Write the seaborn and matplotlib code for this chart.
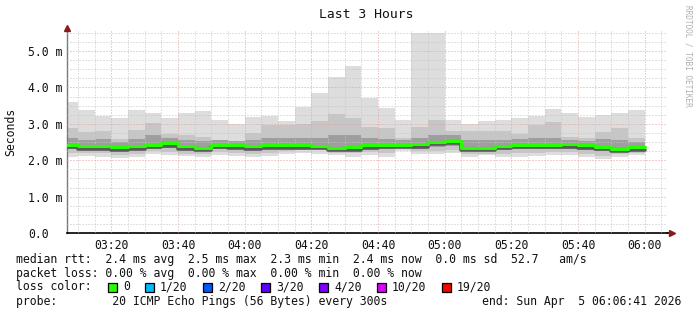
import numpy as np
import pandas as pd
import matplotlib
matplotlib.use("Agg")
import matplotlib.pyplot as plt
import seaborn as sns
from matplotlib.patches import Rectangle
from matplotlib.transforms import offset_copy

# ---------------- data ----------------
start_time = "03:06:41"
bar_end_times = ["03:10", "03:15", "03:20", "03:25", "03:30", "03:35", "03:40",
                 "03:45", "03:50", "03:55", "04:00", "04:05", "04:10", "04:15",
                 "04:20", "04:25", "04:30", "04:35", "04:40", "04:45", "04:50",
                 "04:55", "05:00", "05:05", "05:10", "05:15", "05:20", "05:25",
                 "05:30", "05:35", "05:40", "05:45", "05:50", "05:55", "06:00"]

# RTT smoke percentiles in ms
rtt_max = [3.61, 3.39, 3.22, 3.16, 3.37, 3.29, 3.16, 3.31, 3.34, 3.11,
           3.00, 3.20, 3.22, 3.07, 3.45, 3.86, 4.29, 4.59, 3.72, 3.43,
           3.11, 5.50, 5.50, 3.11, 3.00, 3.09, 3.11, 3.16, 3.22, 3.42,
           3.29, 3.20, 3.25, 3.29, 3.38]
rtt_hi2 = [2.88, 2.77, 2.81, 2.59, 2.84, 3.02, 2.72, 2.68, 2.65, 2.54,
           2.54, 2.74, 2.98, 2.97, 3.00, 3.07, 3.27, 3.16, 2.90, 2.88,
           2.62, 2.90, 3.11, 2.79, 2.81, 2.79, 2.79, 2.72, 2.97, 3.04,
           2.65, 2.60, 2.78, 2.88, 2.60]
rtt_hi3 = [2.60, 2.55, 2.58, 2.50, 2.58, 2.70, 2.62, 2.56, 2.52, 2.56,
           2.52, 2.55, 2.62, 2.60, 2.60, 2.62, 2.70, 2.68, 2.60, 2.58,
           2.55, 2.62, 2.70, 2.68, 2.55, 2.55, 2.56, 2.58, 2.60, 2.62,
           2.55, 2.54, 2.58, 2.56, 2.50]
rtt_median = [2.43, 2.39, 2.39, 2.36, 2.39, 2.43, 2.47, 2.39, 2.34, 2.43,
              2.41, 2.39, 2.41, 2.41, 2.41, 2.40, 2.34, 2.35, 2.41, 2.43,
              2.43, 2.44, 2.51, 2.53, 2.34, 2.34, 2.40, 2.43, 2.43, 2.43,
              2.44, 2.41, 2.37, 2.32, 2.36]
rtt_lo3 = [2.30, 2.28, 2.28, 2.24, 2.28, 2.32, 2.33, 2.27, 2.24, 2.31,
           2.30, 2.28, 2.30, 2.30, 2.30, 2.31, 2.25, 2.25, 2.30, 2.31,
           2.33, 2.32, 2.37, 2.40, 2.24, 2.24, 2.28, 2.30, 2.31, 2.32,
           2.32, 2.29, 2.24, 2.22, 2.26]
rtt_lo2 = [2.19, 2.20, 2.19, 2.14, 2.18, 2.24, 2.22, 2.18, 2.17, 2.22,
           2.20, 2.18, 2.21, 2.24, 2.27, 2.27, 2.20, 2.20, 2.22, 2.20,
           2.30, 2.25, 2.26, 2.28, 2.18, 2.18, 2.17, 2.19, 2.20, 2.22,
           2.22, 2.18, 2.12, 2.16, 2.20]
rtt_min = [2.08, 2.12, 2.10, 2.05, 2.08, 2.16, 2.14, 2.12, 2.10, 2.14,
           2.12, 2.10, 2.12, 2.18, 2.20, 2.18, 2.14, 2.10, 2.13, 2.08,
           2.26, 2.16, 2.18, 2.20, 2.10, 2.13, 2.08, 2.10, 2.12, 2.13,
           2.14, 2.10, 2.03, 2.10, 2.13]

x_tick_labels = ["03:20", "03:40", "04:00", "04:20", "04:40",
                 "05:00", "05:20", "05:40", "06:00"]
y_ticks = [0, 1, 2, 3, 4, 5]
y_tick_labels = ["0.0", "1.0 m", "2.0 m", "3.0 m", "4.0 m", "5.0 m"]

title = "Last 3 Hours"
line_rtt = "median rtt:  2.4 ms avg  2.5 ms max  2.3 ms min  2.4 ms now  0.0 ms sd  52.7   am/s"
line_loss = "packet loss: 0.00 % avg  0.00 % max  0.00 % min  0.00 % now"
loss_labels = ["0", "1/20", "2/20", "3/20", "4/20", "10/20", "19/20"]
loss_colors = ["#26ff00", "#00b8ff", "#0059ff", "#5e00ff", "#7e00ff", "#dd00ff", "#ff0000"]
line_probe = "probe:        20 ICMP Echo Pings (56 Bytes) every 300s"
line_end = "end: Sun Apr  5 06:06:41 2026"

# ---------------- helpers ----------------
def tmin(s):
    p = [int(v) for v in s.split(":")]
    return p[0] * 60 + p[1] + (p[2] / 60.0 if len(p) > 2 else 0.0)

t0 = tmin(start_time)
t_end = t0 + 180.0
x_edges = np.array([t0] + [tmin(t) for t in bar_end_times])

def step(a):
    a = np.asarray(a, dtype=float)
    return np.concatenate([[a[0]], a])

# ---------------- figure ----------------
sns.set_theme(style="white")
plt.rcParams["font.family"] = ["DejaVu Sans Mono", "DejaVu Sans"]
FS = 8.3

W, H = 697, 315
fig = plt.figure(figsize=(W / 100, H / 100), dpi=100)
fig.patch.set_facecolor("white")
ax = fig.add_axes([67 / W, 82 / H, 600 / W, 202 / H])
ax.set_facecolor("white")

YTOP = 5.55
ax.set_xlim(t0, t_end)
ax.set_ylim(0, YTOP)

# smoke layers
ax.fill_between(x_edges, step(rtt_min), step(rtt_max), step="pre",
                color="#dddddd", lw=0, zorder=1)
ax.fill_between(x_edges, step(rtt_lo2), step(rtt_hi2), step="pre",
                color="#c6c6c6", lw=0, zorder=1.1)
ax.fill_between(x_edges, step(rtt_lo3), step(rtt_hi3), step="pre",
                color="#9e9e9e", lw=0, zorder=1.2)

# median line (dark core smoke just under it, then the green median)
df = pd.DataFrame({"t": x_edges, "median": step(rtt_median)})
sns.lineplot(data=df, x="t", y="median", ax=ax, drawstyle="steps-pre",
             color="#5a5a5a", lw=2.6, estimator=None, sort=False, zorder=3)
ax.lines[-1].set_transform(offset_copy(ax.transData, fig=fig, x=0, y=-2.5, units="dots"))
sns.lineplot(data=df, x="t", y="median", ax=ax, drawstyle="steps-pre",
             color="#26ff00", lw=2.2, estimator=None, sort=False, zorder=4)

# grid
ax.set_xticks([tmin(t) for t in x_tick_labels])
ax.set_xticklabels(x_tick_labels)
ax.set_xticks(np.arange(190, 366, 5), minor=True)
ax.set_yticks(y_ticks)
ax.set_yticklabels(y_tick_labels)
ax.set_yticks(np.arange(0, 5.51, 0.25), minor=True)
ax.grid(which="minor", color="#c4c4c4", linestyle=(0, (1, 2)), lw=0.72, zorder=2)
ax.grid(which="major", color="#e6a0a0", linestyle=(0, (1, 2)), lw=0.72, zorder=2)
ax.set_axisbelow(False)
ax.set_xlabel("")
ax.set_ylabel("")

for s in ["top", "right"]:
    ax.spines[s].set_visible(False)
ax.spines["left"].set_color("#777777")
ax.spines["left"].set_linewidth(1.0)
ax.spines["bottom"].set_color("#000000")
ax.spines["bottom"].set_linewidth(1.2)

ax.tick_params(axis="y", which="major", length=3, width=0.8, color="#555555",
               pad=25.0, labelsize=FS, labelcolor="#111111")
ax.tick_params(axis="y", which="minor", length=0)
ax.tick_params(axis="x", which="major", length=2, width=0.8, color="#555555",
               pad=2.5, labelsize=FS, labelcolor="#111111")
ax.tick_params(axis="x", which="minor", length=0)
for lab in ax.get_yticklabels():
    lab.set_horizontalalignment("left")

# axis arrows
ax.plot([t0], [YTOP + 0.08], marker="^", color="#8b1a1a", markersize=4.5,
        clip_on=False, zorder=6, lw=0)
ax.plot([t_end, t_end + 1.0], [0, 0], color="#000000", lw=1.2, clip_on=False, zorder=5)
ax.plot([t_end + 1.5], [0], marker=">", color="#8b1a1a", markersize=4.5,
        clip_on=False, zorder=6, lw=0)

# texts
def fx(px):
    return px / W

def fy(py):
    return 1 - py / H

fig.text(fx(366), fy(14), title, ha="center", va="center", fontsize=9.4, color="#111111")
fig.text(fx(11), fy(132), "Seconds", rotation=90, ha="center", va="center",
         fontsize=FS, color="#111111")
fig.text(fx(688), fy(5), "RRDTOOL / TOBI OETIKER", rotation=270, ha="center",
         va="top", fontsize=5.6, color="#b0b0b0")

fig.text(fx(16), fy(259), line_rtt, ha="left", va="center", fontsize=FS, color="#111111")
fig.text(fx(16), fy(273), line_loss, ha="left", va="center", fontsize=FS, color="#111111")
fig.text(fx(16), fy(287), "loss color:", ha="left", va="center", fontsize=FS, color="#111111")
box_x = [108, 145, 203, 261, 319, 377, 442]
for bx, lab, col in zip(box_x, loss_labels, loss_colors):
    fig.add_artist(Rectangle((fx(bx), fy(291.5)), 8.5 / W, 8.5 / H,
                             transform=fig.transFigure, facecolor=col,
                             edgecolor="black", lw=0.9))
    fig.text(fx(bx + 15), fy(287), lab, ha="left", va="center", fontsize=FS, color="#111111")
fig.text(fx(16), fy(301), line_probe, ha="left", va="center", fontsize=FS, color="#111111")
fig.text(fx(681), fy(301), line_end, ha="right", va="center", fontsize=FS, color="#111111")

fig.savefig("out.png", dpi=100, facecolor="white")
